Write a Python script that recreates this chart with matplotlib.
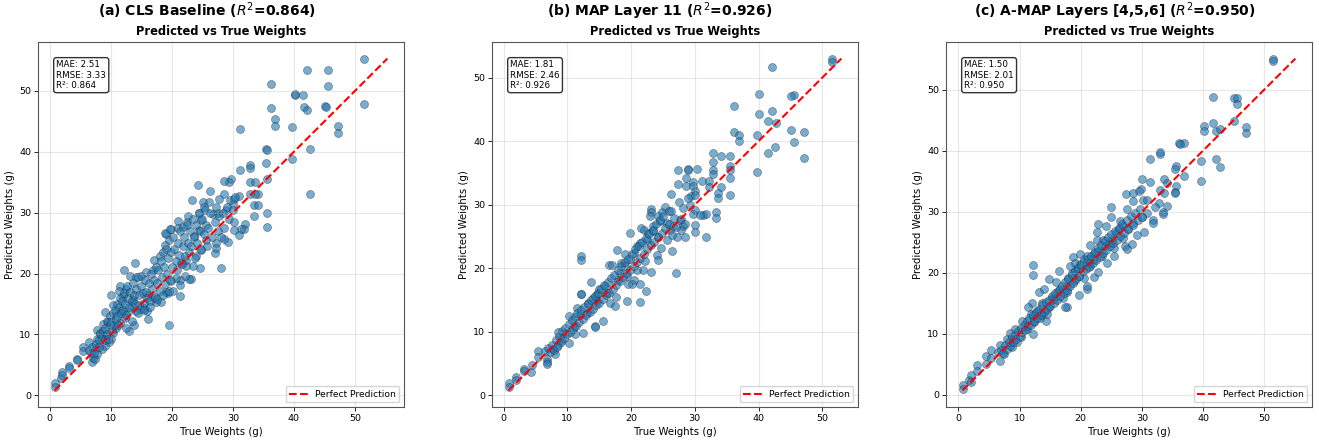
import numpy as np
import matplotlib
matplotlib.use('Agg')
import matplotlib.pyplot as plt

# (true, predicted) pairs, one list per model
cls_points = [
    (51.5, 55.3), (51.5, 47.8), (42.1, 53.5), (45.5, 53.4), (45.5, 50.8), (36.2, 51.1),
    (40.1, 49.3), (40.2, 49.5), (41.5, 49.3), (41.6, 47.4), (42.1, 46.8), (45.1, 47.5),
    (45.2, 47.4), (36.2, 47.2), (36.9, 45.3), (36.9, 44.3), (39.6, 44.1), (47.2, 44.2),
    (47.2, 43.0), (31.2, 43.7), (35.4, 40.5), (35.6, 40.3), (42.6, 40.5), (39.6, 38.8),
    (35.4, 38.2), (32.8, 37.9), (32.8, 37.3), (31.2, 37.0), (42.6, 33.0), (35.6, 35.5),
    (32.8, 35.1), (33.7, 35.1), (29.7, 35.6), (29.4, 35.1), (28.6, 35.2), (24.3, 34.5),
    (26.3, 33.5), (34.1, 33.0), (33.7, 33.0), (32.8, 33.0), (31.0, 32.8), (28.6, 33.0),
    (23.3, 32.0), (25.1, 31.8), (26.1, 31.8), (27.8, 32.2), (30.2, 32.2), (30.0, 31.4),
    (33.5, 31.3), (34.1, 31.3), (35.6, 30.0), (35.6, 27.7), (33.5, 29.4), (32.0, 28.2),
    (31.8, 27.3), (31.4, 27.3), (31.0, 26.4), (29.2, 25.2), (30.2, 27.2), (28.0, 20.9),
    (24.6, 20.9), (21.0, 28.7), (19.8, 27.3), (19.1, 26.5), (12.1, 20.5), (13.9, 21.8),
    (19.6, 11.5), (16.1, 12.5), (12.9, 10.5), (13.8, 11.5), (21.3, 16.3), (20.2, 17.1),
    (23.2, 19.1),
    (0.8, 2.0), (0.8, 1.3), (1.9, 2.8), (2.0, 3.8), (2.0, 3.4), (3.2, 4.8), (3.2, 4.4),
    (4.5, 5.9), (4.4, 5.8), (5.4, 8.0), (5.4, 7.2), (6.4, 8.7), (6.8, 6.9), (6.9, 5.4),
    (7.1, 6.2), (7.6, 7.7), (7.8, 9.2), (7.7, 10.8), (8.2, 10.3), (8.7, 11.7), (9.2, 9.7),
    (9.3, 12.2), (9.1, 13.6), (9.8, 13.0), (10.4, 14.9), (10.1, 16.4), (11.5, 17.9),
    (11.3, 17.1), (12.0, 16.3), (12.5, 17.4), (13.1, 19.6), (14.2, 19.4), (14.9, 19.6),
    (15.8, 20.2), (16.9, 20.6), (17.1, 22.3), (18.0, 22.8), (18.8, 24.7), (18.9, 26.6),
    (19.7, 27.3), (21.0, 27.5), (21.8, 27.7), (22.5, 28.5), (22.7, 29.4), (24.5, 29.9),
    (24.8, 28.8), (25.3, 31.0), (26.7, 29.7), (27.5, 29.9), (28.9, 30.4), (24.5, 27.2),
    (23.7, 26.1), (25.6, 25.5), (27.3, 25.0), (28.5, 25.7), (27.0, 23.4), (27.3, 24.2),
    (24.8, 23.9), (24.0, 22.8), (23.5, 21.2), (22.3, 21.2), (21.5, 21.7), (22.3, 22.3),
    (22.8, 19.1), (22.1, 19.6), (21.3, 18.9), (20.6, 19.3), (21.3, 18.1), (19.9, 18.7),
    (19.1, 17.0), (19.4, 16.8), (18.3, 15.4), (17.4, 15.3), (17.0, 16.0), (16.1, 16.4),
    (15.9, 13.8), (15.5, 14.4), (14.7, 14.9), (14.2, 13.8), (13.6, 15.7), (13.4, 14.7),
    (12.8, 13.7), (12.3, 12.7), (11.7, 13.8), (11.5, 11.9), (10.9, 11.1), (10.4, 10.3),
    (10.1, 9.2), (9.7, 8.7), (9.0, 8.1), (8.5, 7.6), (7.7, 6.8), (7.4, 5.9),
    (6.5, 7.5), (7.0, 8.0), (7.3, 7.0), (7.5, 8.5), (8.0, 9.0), (8.0, 8.0), (8.3, 10.0),
    (8.5, 9.5), (8.8, 10.5), (9.0, 9.0), (9.0, 11.0), (9.3, 10.0), (9.5, 12.0), (9.6, 9.3),
    (9.8, 11.5), (10.0, 12.0), (10.2, 10.5), (10.3, 13.5), (10.5, 11.5), (10.7, 14.0),
    (10.8, 12.5), (11.0, 15.0), (11.0, 13.0), (11.2, 11.5), (11.4, 14.5), (11.5, 16.0),
    (11.7, 13.5), (11.8, 15.5), (12.0, 14.0), (12.1, 16.8), (12.3, 15.0), (12.5, 13.2),
    (12.6, 18.0), (12.8, 16.0), (13.0, 14.5), (13.2, 17.0), (13.4, 15.5), (13.6, 18.5),
    (13.8, 16.5), (14.0, 15.0), (14.2, 17.5), (14.4, 19.5), (14.6, 16.5), (14.8, 14.2),
    (15.0, 18.0), (15.2, 16.8), (15.4, 15.2), (15.6, 19.0), (15.8, 17.0), (16.0, 16.0),
    (16.2, 18.5), (16.4, 15.5), (16.6, 20.0), (16.8, 17.5), (17.0, 19.0), (17.2, 16.2),
    (17.4, 21.0), (17.6, 18.5), (17.8, 20.5), (18.0, 17.2), (18.2, 22.0), (18.4, 19.5),
    (18.5, 23.5), (18.7, 21.0), (18.9, 18.2), (19.0, 24.0), (19.2, 20.0), (19.4, 22.5),
    (19.5, 25.5), (19.7, 19.0), (19.9, 23.5), (20.0, 21.0), (20.2, 26.0), (20.4, 24.0),
    (20.6, 22.0), (20.8, 20.5), (21.0, 25.0), (21.2, 23.0), (21.4, 27.0), (21.6, 21.5),
    (21.8, 24.5), (22.0, 26.0), (22.2, 22.8), (22.4, 28.0), (22.6, 25.0), (22.8, 23.5),
    (23.0, 27.0), (23.2, 24.5), (23.4, 29.0), (23.6, 26.0), (23.8, 22.5), (24.0, 28.0),
    (24.2, 25.0), (24.4, 30.0), (24.6, 27.0), (24.8, 24.0), (25.0, 29.0), (25.2, 26.5),
    (25.4, 30.5), (25.6, 28.0), (25.8, 24.5), (26.0, 27.5), (26.3, 30.0), (26.6, 26.0),
    (27.0, 28.5), (27.2, 31.0), (27.5, 27.0), (27.8, 29.5), (28.0, 26.0), (28.3, 30.0),
    (28.6, 27.5), (29.0, 31.0), (29.3, 29.0), (29.6, 32.0), (30.0, 30.5), (30.2, 28.5),
    (30.4, 32.5), (12.5, 11.0), (13.5, 12.2), (14.5, 13.5), (15.5, 14.0), (16.5, 14.5),
    (17.5, 15.8), (18.5, 16.5), (19.5, 17.2),
]

map_points = [
    (51.5, 53.0), (51.5, 52.4), (42.1, 51.6), (40.1, 47.4), (45.5, 47.3), (45.1, 47.1),
    (36.2, 45.5), (40.1, 44.3), (42.1, 44.8), (41.5, 43.2), (42.7, 42.9), (36.2, 41.5),
    (37.0, 41.0), (37.0, 40.1), (39.7, 41.0), (45.1, 41.7), (47.1, 41.4), (45.5, 39.8),
    (42.6, 39.1), (41.5, 38.2), (47.1, 37.4), (39.7, 35.1), (32.9, 38.2), (34.1, 37.6),
    (35.5, 37.6), (32.9, 36.8), (35.5, 36.1), (35.6, 35.5), (35.6, 34.2), (35.6, 31.6),
    (32.9, 35.5), (32.9, 34.8), (34.1, 32.8), (33.7, 31.9), (33.7, 31.1), (33.4, 28.9),
    (33.4, 28.0), (27.4, 35.5), (28.9, 35.7), (28.9, 35.5), (30.3, 35.7), (27.4, 33.3),
    (28.6, 34.2), (29.8, 33.6), (31.1, 33.8), (32.2, 33.8), (26.2, 31.7), (28.6, 33.0),
    (29.8, 32.9), (30.0, 32.2), (29.4, 31.4), (32.2, 32.8), (30.1, 29.2), (30.1, 26.9),
    (30.1, 25.7), (31.7, 24.9), (31.3, 28.4), (31.7, 28.6), (30.9, 28.4), (27.1, 19.3),
    (26.4, 22.8), (28.5, 24.9), (27.2, 25.0), (21.4, 14.7), (22.4, 16.5), (21.4, 17.6),
    (19.3, 14.9), (12.1, 22.0), (12.1, 21.3), (12.1, 15.9), (12.1, 16.0), (15.6, 11.7),
    (14.4, 11.0), (14.4, 10.7), (13.8, 17.9), (14.6, 14.8), (16.5, 20.6), (17.0, 20.5),
    (19.9, 25.5), (17.8, 22.9), (19.1, 22.2), (21.6, 26.4), (23.2, 29.4), (23.2, 28.9),
    (24.8, 28.8), (25.3, 29.7), (26.0, 29.0), (24.3, 28.3), (22.9, 28.3), (22.0, 26.0),
    (23.5, 25.8), (24.2, 24.9), (24.7, 23.2), (24.0, 22.1), (24.3, 21.3), (22.2, 21.1),
    (21.9, 19.7), (23.1, 19.5), (20.9, 19.7), (20.4, 18.2), (20.1, 17.5), (19.6, 17.5),
    (0.8, 1.9), (0.8, 1.4), (1.9, 2.9), (2.0, 2.4), (3.2, 4.1), (3.2, 3.9), (4.3, 3.7),
    (4.4, 4.8), (5.4, 7.0), (5.4, 6.0), (6.8, 5.8), (6.8, 5.3), (6.8, 5.0), (6.5, 7.0),
    (7.8, 7.3), (8.1, 6.5), (8.6, 8.0), (8.6, 10.0), (9.0, 8.8), (9.7, 9.9), (10.2, 8.3),
    (10.2, 12.5), (11.0, 10.9), (11.2, 9.6), (11.5, 13.8), (12.0, 12.7), (12.5, 9.9),
    (13.1, 13.0), (13.3, 14.5), (14.0, 15.3), (14.6, 15.9), (15.0, 16.7), (15.9, 17.3),
    (16.2, 16.1), (16.7, 14.5), (17.5, 14.1), (17.6, 15.5), (18.0, 18.2), (18.3, 19.3),
    (18.5, 20.8), (19.1, 20.3), (19.3, 18.8), (19.9, 21.4), (20.4, 22.4), (20.9, 23.5),
    (21.4, 24.0), (22.5, 24.5), (22.7, 25.5), (23.5, 26.6), (24.6, 27.4), (25.6, 27.1),
    (26.1, 26.1), (26.6, 26.6), (27.7, 27.6), (28.2, 26.6), (27.9, 26.1),
    (7.0, 7.5), (7.3, 6.8), (7.6, 8.0), (7.9, 7.2), (8.2, 8.8), (8.4, 7.6), (8.7, 9.3),
    (9.0, 8.4), (9.2, 10.1), (9.5, 9.0), (9.7, 10.6), (10.0, 9.6), (10.2, 11.2), (10.4, 10.0),
    (10.7, 11.8), (10.9, 10.4), (11.2, 12.3), (11.4, 11.0), (11.6, 13.0), (11.9, 11.6),
    (12.2, 13.4), (12.4, 12.0), (12.7, 14.0), (12.9, 12.6), (13.2, 14.4), (13.5, 13.2),
    (13.7, 15.0), (14.0, 13.6), (14.3, 15.6), (14.5, 14.2), (14.8, 16.2), (15.0, 14.6),
    (15.3, 16.8), (15.6, 15.2), (15.8, 17.4), (16.1, 15.8), (16.4, 17.8), (16.6, 16.2),
    (16.9, 18.5), (17.2, 16.8), (17.4, 19.0), (17.7, 17.4), (18.0, 19.8), (18.2, 18.0),
    (18.5, 20.3), (18.8, 18.6), (19.0, 21.0), (19.3, 19.2), (19.6, 21.5), (19.8, 19.8),
    (20.1, 22.2), (20.4, 20.4), (20.6, 23.0), (20.9, 21.0), (21.2, 23.5), (21.4, 21.6),
    (21.7, 24.2), (22.0, 22.3), (22.3, 24.8), (22.5, 23.0), (22.8, 25.4), (23.1, 23.6),
    (23.4, 26.0), (23.6, 24.2), (23.9, 27.0), (24.2, 25.0), (24.5, 27.6), (24.8, 25.6),
    (25.0, 28.2), (25.3, 26.3), (25.6, 24.5), (25.9, 27.0), (26.2, 29.0), (26.5, 25.2),
    (26.8, 28.0), (27.1, 26.5), (27.5, 30.5), (27.8, 27.8), (28.2, 29.5), (28.5, 27.0),
    (28.9, 31.0), (29.3, 30.0), (29.7, 28.5), (30.0, 31.5),
]

amap_points = [
    (51.5, 55.1), (51.5, 54.7), (41.6, 48.8), (45.1, 48.7), (45.5, 48.6), (45.5, 47.7),
    (41.6, 44.6), (45.1, 44.8), (40.1, 44.0), (40.1, 43.3), (42.1, 43.3), (42.7, 43.5),
    (47.1, 43.9), (47.1, 42.9), (36.1, 41.2), (36.9, 41.2), (36.3, 41.1), (39.7, 38.3),
    (42.1, 38.6), (42.7, 37.3), (39.7, 35.1), (31.3, 38.7), (32.9, 39.8), (32.9, 39.5),
    (35.6, 37.5), (35.5, 37.0), (36.9, 35.8), (33.6, 35.4), (34.1, 34.7), (35.6, 34.2),
    (35.5, 33.3), (35.5, 33.1), (30.0, 35.4), (31.3, 34.9), (32.9, 33.6), (33.6, 33.0),
    (29.8, 33.8), (29.5, 33.4), (27.4, 32.9), (28.5, 33.0), (30.2, 31.9), (30.8, 31.9),
    (32.8, 31.5), (34.1, 31.0), (32.1, 30.7), (33.4, 30.0), (33.4, 29.6), (28.6, 31.7),
    (27.5, 30.4), (24.9, 30.7), (30.8, 29.8), (30.0, 29.2), (31.8, 28.7), (31.8, 28.1),
    (30.3, 26.6), (29.2, 26.2), (28.4, 24.7), (27.2, 24.3), (27.5, 23.9), (26.9, 25.7),
    (24.9, 29.2), (22.9, 28.0), (22.6, 26.7), (24.1, 27.7), (12.2, 21.3), (12.2, 19.7),
    (12.1, 15.1), (13.2, 16.9), (14.0, 17.4), (14.4, 12.1), (13.4, 12.5), (14.9, 18.9),
    (16.0, 18.5), (16.5, 20.2), (17.7, 14.4), (17.5, 14.3), (19.8, 16.3), (21.1, 17.4),
    (21.1, 17.8), (22.2, 19.3), (22.9, 20.1), (20.6, 19.1), (19.9, 23.0), (18.7, 22.5),
    (22.2, 23.3), (21.6, 24.6), (22.6, 25.3), (23.6, 25.3), (24.3, 21.6), (25.4, 22.8),
    (0.7, 1.6), (0.7, 1.0), (1.7, 2.4), (2.0, 3.3), (2.1, 2.1), (3.1, 4.8), (3.1, 3.9),
    (4.5, 6.3), (4.5, 5.0), (5.4, 7.3), (5.4, 6.0), (6.8, 8.1), (6.8, 5.6), (6.5, 7.0),
    (7.4, 6.6), (7.9, 9.2), (8.5, 10.1), (8.8, 7.8), (9.3, 10.8), (9.6, 8.6), (10.2, 9.4),
    (10.4, 12.1), (11.3, 10.8), (11.4, 14.3), (11.8, 13.2), (12.2, 10.0), (12.4, 11.9),
    (12.9, 13.8), (13.7, 15.1), (13.7, 13.2), (14.5, 13.2), (14.8, 14.3), (15.3, 15.9),
    (15.7, 15.7), (16.1, 16.8), (16.7, 17.3), (17.1, 15.9), (17.8, 17.8), (17.8, 16.8),
    (18.0, 19.2), (18.2, 21.1), (18.6, 20.0), (18.9, 18.7), (19.1, 21.6), (19.4, 20.6),
    (19.7, 19.5), (19.9, 21.4), (20.5, 22.2), (21.0, 22.7), (21.3, 21.6), (21.6, 21.1),
    (22.1, 22.2), (22.9, 23.5), (23.5, 22.7), (24.0, 24.3), (24.6, 24.9), (25.1, 25.4),
    (25.4, 24.1), (25.7, 26.5), (26.2, 27.1), (26.5, 28.4), (27.0, 27.6), (27.8, 27.1),
    (28.6, 28.1),
    (7.0, 7.3), (7.3, 6.9), (7.6, 8.1), (7.9, 7.5), (8.2, 8.7), (8.4, 8.0), (8.7, 9.4),
    (9.0, 8.6), (9.2, 9.8), (9.5, 9.2), (9.7, 10.4), (10.0, 9.7), (10.2, 11.0), (10.4, 10.2),
    (10.7, 11.5), (10.9, 10.6), (11.2, 12.1), (11.4, 11.2), (11.6, 12.6), (11.9, 11.5),
    (12.2, 13.1), (12.4, 12.1), (12.7, 13.6), (12.9, 12.5), (13.2, 14.1), (13.5, 13.0),
    (13.7, 14.7), (14.0, 13.6), (14.3, 15.2), (14.5, 14.1), (14.8, 15.6), (15.0, 14.5),
    (15.3, 16.2), (15.6, 15.1), (15.8, 16.7), (16.1, 15.6), (16.4, 17.2), (16.6, 16.1),
    (16.9, 17.8), (17.2, 16.6), (17.4, 18.4), (17.7, 17.2), (18.0, 19.0), (18.2, 17.8),
    (18.5, 19.6), (18.8, 18.3), (19.0, 20.2), (19.3, 18.9), (19.6, 20.7), (19.8, 19.5),
    (20.1, 21.2), (20.4, 20.2), (20.6, 21.8), (20.9, 20.6), (21.2, 22.3), (21.4, 21.0),
    (21.7, 22.8), (22.0, 21.6), (22.3, 23.4), (22.5, 22.1), (22.8, 24.0), (23.1, 22.6),
    (23.4, 24.6), (23.6, 23.2), (23.9, 25.2), (24.2, 23.8), (24.5, 25.8), (24.8, 24.3),
    (25.0, 26.4), (25.3, 24.9), (25.6, 26.9), (25.9, 25.4), (26.2, 27.4), (26.5, 26.0),
    (26.8, 28.0), (27.1, 26.5), (27.5, 28.7), (27.8, 27.2), (28.2, 29.3), (28.5, 27.8),
    (28.9, 29.8), (29.3, 28.6), (29.7, 30.5), (30.0, 29.2),
]

panel_titles = ['(a) CLS Baseline ($R^2$=0.864)',
                '(b) MAP Layer 11 ($R^2$=0.926)',
                '(c) A-MAP Layers [4,5,6] ($R^2$=0.950)']
metrics = [(2.51, 3.33, 0.864), (1.81, 2.46, 0.926), (1.50, 2.01, 0.950)]
all_points = [cls_points, map_points, amap_points]

W, H = 1319, 441
fig = plt.figure(figsize=(W / 100, H / 100), dpi=100)

ax_left = [38, 492, 946]
title_x = [207, 660, 1115]

for i in range(3):
    ax = fig.add_axes([ax_left[i] / W, 34 / H, 366 / W, 365 / H])
    pts = np.array(all_points[i])
    y_true, y_pred = pts[:, 0], pts[:, 1]

    ax.scatter(y_true, y_pred, s=33, alpha=0.6, color='#1f77b4',
               edgecolors='#222222', linewidths=0.4)
    lo = min(y_true.min(), y_pred.min())
    hi = max(y_true.max(), y_pred.max())
    ax.plot([lo, hi], [lo, hi], 'r--', lw=1.5, label='Perfect Prediction')

    ax.set_xlabel('True Weights (g)', fontsize=7.3, labelpad=3)
    ax.set_ylabel('Predicted Weights (g)', fontsize=7.3, labelpad=3)
    ax.set_title('Predicted vs True Weights', fontsize=8.3, fontweight='bold', pad=5)
    ax.tick_params(labelsize=6.8, length=3, width=0.6, pad=2)
    ax.grid(True, alpha=0.3)
    ax.legend(loc='lower right', fontsize=6.6)
    for sp in ax.spines.values():
        sp.set_color('#555555')

    mae, rmse, r2 = metrics[i]
    ax.text(0.05, 0.95, f'MAE: {mae:.2f}\nRMSE: {rmse:.2f}\nR²: {r2:.3f}',
            transform=ax.transAxes, va='top', fontsize=6.3,
            bbox=dict(boxstyle='round', facecolor='white', alpha=0.8))

    fig.text(title_x[i] / W, 1 - 11 / H, panel_titles[i], ha='center', va='center',
             fontsize=10, fontweight='bold')

fig.savefig('out.png', dpi=100)
